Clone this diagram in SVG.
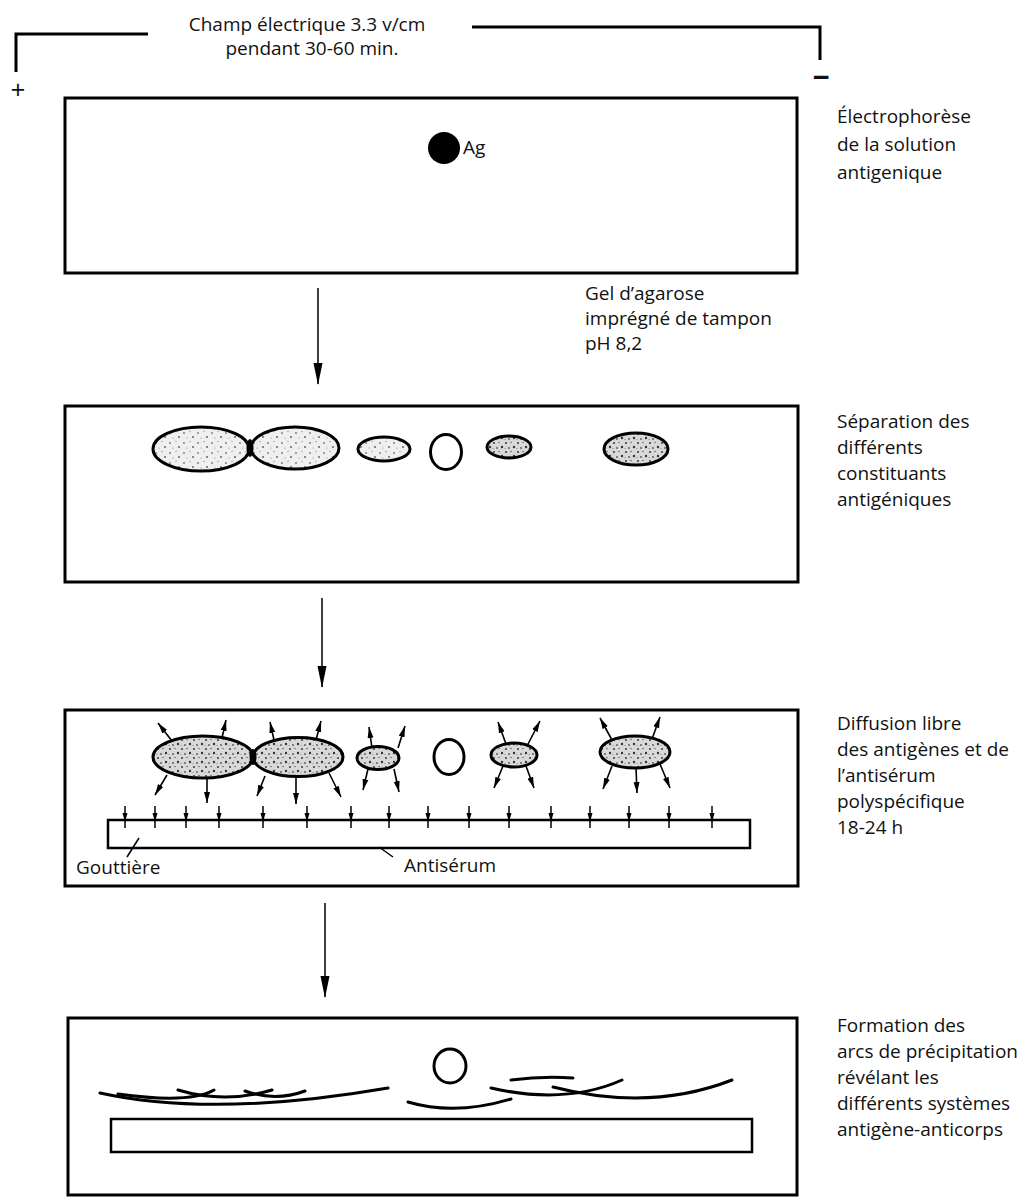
<svg xmlns="http://www.w3.org/2000/svg" width="1036" height="1200" viewBox="0 0 1036 1200">
<style>
.frame{fill:none;stroke:#000;stroke-width:3}
.strip{fill:#fff;stroke:#000;stroke-width:2.5}
.lbl{font-family:"Open Sans","DejaVu Sans",sans-serif;font-size:19px;fill:#111}
.ell{stroke:#000;stroke-width:3}
.arc{fill:none;stroke:#000;stroke-width:3;stroke-linecap:round}
.ray{stroke:#000;stroke-width:1.6}
.conn{stroke:#000;stroke-width:1.5;fill:none}
.tick{stroke:#000;stroke-width:1.5}
.ptr{stroke:#000;stroke-width:1.5}
</style>
<defs>
<pattern id="st" width="14" height="10" patternUnits="userSpaceOnUse">
<rect width="14" height="10" fill="#efefef"/>
<circle cx="2" cy="3" r="0.9" fill="#777"/>
<circle cx="8" cy="1.5" r="0.7" fill="#999"/>
<circle cx="11" cy="7" r="1" fill="#666"/>
<circle cx="5" cy="8" r="0.6" fill="#888"/>
</pattern>
<pattern id="std" width="12" height="9" patternUnits="userSpaceOnUse">
<rect width="12" height="9" fill="#d9d9d9"/>
<circle cx="2" cy="2" r="1.1" fill="#444"/>
<circle cx="7" cy="1.5" r="0.8" fill="#666"/>
<circle cx="10" cy="6" r="1.2" fill="#333"/>
<circle cx="5" cy="7" r="0.9" fill="#555"/>
<circle cx="1" cy="7.5" r="0.6" fill="#777"/>
</pattern>
<marker id="big" markerUnits="userSpaceOnUse" markerWidth="22" markerHeight="10" refX="21" refY="5" orient="auto">
<path d="M0,0.5 L22,5 L0,9.5 z" fill="#000"/>
</marker>
<marker id="sm" markerUnits="userSpaceOnUse" markerWidth="11" markerHeight="7" refX="11" refY="3.5" orient="auto">
<path d="M0,0.5 L11,3.5 L0,6.5 z" fill="#000"/>
</marker>
</defs>
<rect width="1036" height="1200" fill="#fff"/>

<g id="field">
<path d="M16,72 L16,34 L148,34" class="frame" stroke-width="2.5"/>
<path d="M472,27 L820,27 L820,60" class="frame" stroke-width="2.5"/>
<text class="lbl" x="307" y="31" text-anchor="middle">Champ électrique 3.3 v/cm</text>
<text class="lbl" x="312" y="55" text-anchor="middle">pendant 30-60 min.</text>
<text class="lbl" x="18" y="99" text-anchor="middle" style="font-size:26px">+</text>
<text class="lbl" x="821" y="88" text-anchor="middle" style="font-size:30px;font-weight:bold">−</text>
</g>

<g id="panel1">
<rect x="65" y="98" width="732" height="175" class="frame"/>
<circle cx="444" cy="148" r="16" fill="#000"/>
<text class="lbl" x="463" y="154">Ag</text>
<text class="lbl" x="837" y="123">Électrophorèse</text>
<text class="lbl" x="837" y="151">de la solution</text>
<text class="lbl" x="837" y="179">antigenique</text>
</g>

<g id="gel-label">
<text class="lbl" x="585" y="300">Gel d’agarose</text>
<text class="lbl" x="585" y="325">imprégné de tampon</text>
<text class="lbl" x="585" y="350">pH 8,2</text>
</g>

<g id="panel2">
<rect x="65" y="406" width="733" height="176" class="frame"/>
<ellipse cx="201" cy="449" rx="48" ry="22" fill="url(#st)" class="ell"/>
<ellipse cx="295" cy="448" rx="44" ry="21" fill="url(#st)" class="ell"/>
<ellipse cx="250" cy="448" rx="3.5" ry="9" fill="#000"/>
<ellipse cx="384" cy="449" rx="26" ry="12" fill="url(#st)" class="ell"/>
<ellipse cx="446" cy="452" rx="15.5" ry="17.5" fill="#fff" class="ell" stroke-width="2"/>
<ellipse cx="509" cy="447" rx="22" ry="11" fill="url(#std)" class="ell"/>
<ellipse cx="636" cy="449" rx="32" ry="16" fill="url(#std)" class="ell"/>
<text class="lbl" x="837" y="428">Séparation des</text>
<text class="lbl" x="837" y="454">différents</text>
<text class="lbl" x="837" y="480">constituants</text>
<text class="lbl" x="837" y="506">antigéniques</text>
</g>

<g id="panel3">
<rect x="65" y="710" width="733" height="176" class="frame"/>
<ellipse cx="203" cy="757" rx="50" ry="21" fill="url(#std)" class="ell"/>
<ellipse cx="298" cy="757" rx="45" ry="19.5" fill="url(#std)" class="ell"/>
<ellipse cx="253" cy="757" rx="3.5" ry="8" fill="#000"/>
<ellipse cx="378" cy="758" rx="21" ry="11.5" fill="url(#std)" class="ell"/>
<ellipse cx="449" cy="757" rx="15" ry="17.5" fill="#fff" class="ell" stroke-width="2"/>
<ellipse cx="514" cy="755" rx="23" ry="12" fill="url(#std)" class="ell"/>
<ellipse cx="635" cy="752" rx="35" ry="16" fill="url(#std)" class="ell"/>
<g class="ray">
<line x1="172" y1="741" x2="158" y2="723" marker-end="url(#sm)"/>
<line x1="222" y1="738" x2="226" y2="720" marker-end="url(#sm)"/>
<line x1="167" y1="775" x2="155" y2="795" marker-end="url(#sm)"/>
<line x1="207" y1="778" x2="207" y2="803" marker-end="url(#sm)"/>
<line x1="274" y1="740" x2="270" y2="722" marker-end="url(#sm)"/>
<line x1="316" y1="740" x2="321" y2="721" marker-end="url(#sm)"/>
<line x1="265" y1="776" x2="257" y2="796" marker-end="url(#sm)"/>
<line x1="296" y1="777" x2="296" y2="804" marker-end="url(#sm)"/>
<line x1="329" y1="773" x2="341" y2="797" marker-end="url(#sm)"/>
<line x1="372" y1="748" x2="369" y2="727" marker-end="url(#sm)"/>
<line x1="398" y1="748" x2="405" y2="726" marker-end="url(#sm)"/>
<line x1="368" y1="769" x2="363" y2="790" marker-end="url(#sm)"/>
<line x1="394" y1="769" x2="399" y2="792" marker-end="url(#sm)"/>
<line x1="506" y1="744" x2="498" y2="722" marker-end="url(#sm)"/>
<line x1="528" y1="744" x2="540" y2="721" marker-end="url(#sm)"/>
<line x1="503" y1="766" x2="494" y2="788" marker-end="url(#sm)"/>
<line x1="526" y1="766" x2="534" y2="788" marker-end="url(#sm)"/>
<line x1="612" y1="740" x2="600" y2="718" marker-end="url(#sm)"/>
<line x1="652" y1="739" x2="660" y2="717" marker-end="url(#sm)"/>
<line x1="612" y1="766" x2="603" y2="789" marker-end="url(#sm)"/>
<line x1="636" y1="768" x2="637" y2="793" marker-end="url(#sm)"/>
<line x1="660" y1="764" x2="670" y2="788" marker-end="url(#sm)"/>
</g>
<rect x="108" y="820" width="642" height="28" class="strip"/>
<g class="tick">
<line x1="125" y1="806" x2="125" y2="828"/><line x1="155" y1="806" x2="155" y2="828"/>
<line x1="186" y1="806" x2="186" y2="828"/><line x1="219" y1="806" x2="219" y2="828"/>
<line x1="263" y1="806" x2="263" y2="828"/><line x1="307" y1="806" x2="307" y2="828"/>
<line x1="351" y1="806" x2="351" y2="828"/><line x1="389" y1="806" x2="389" y2="828"/>
<line x1="428" y1="806" x2="428" y2="828"/><line x1="469" y1="806" x2="469" y2="828"/>
<line x1="509" y1="806" x2="509" y2="828"/><line x1="551" y1="806" x2="551" y2="828"/>
<line x1="590" y1="806" x2="590" y2="828"/><line x1="629" y1="806" x2="629" y2="828"/>
<line x1="669" y1="806" x2="669" y2="828"/><line x1="712" y1="806" x2="712" y2="828"/>
</g>
<g fill="#000">
<path d="M122.5,813 L127.5,813 L125,822 z"/><path d="M152.5,813 L157.5,813 L155,822 z"/>
<path d="M183.5,813 L188.5,813 L186,822 z"/><path d="M216.5,813 L221.5,813 L219,822 z"/>
<path d="M260.5,813 L265.5,813 L263,822 z"/><path d="M304.5,813 L309.5,813 L307,822 z"/>
<path d="M348.5,813 L353.5,813 L351,822 z"/><path d="M386.5,813 L391.5,813 L389,822 z"/>
<path d="M425.5,813 L430.5,813 L428,822 z"/><path d="M466.5,813 L471.5,813 L469,822 z"/>
<path d="M506.5,813 L511.5,813 L509,822 z"/><path d="M548.5,813 L553.5,813 L551,822 z"/>
<path d="M587.5,813 L592.5,813 L590,822 z"/><path d="M626.5,813 L631.5,813 L629,822 z"/>
<path d="M666.5,813 L671.5,813 L669,822 z"/><path d="M709.5,813 L714.5,813 L712,822 z"/>
</g>
<line x1="127" y1="857" x2="139" y2="838" class="ptr"/>
<line x1="393" y1="857" x2="379" y2="847" class="ptr"/>
<text class="lbl" x="76" y="874">Gouttière</text>
<text class="lbl" x="404" y="872">Antisérum</text>
<text class="lbl" x="837" y="730">Diffusion libre</text>
<text class="lbl" x="837" y="756">des antigènes et de</text>
<text class="lbl" x="837" y="782">l’antisérum</text>
<text class="lbl" x="837" y="808">polyspécifique</text>
<text class="lbl" x="837" y="834">18-24 h</text>
</g>

<g id="panel4">
<rect x="68" y="1018" width="729" height="177" class="frame"/>
<ellipse cx="450" cy="1066" rx="16" ry="17" fill="#fff" class="ell" stroke-width="2"/>
<path class="arc" d="M100,1093 Q214,1118 388,1088"/>
<path class="arc" d="M118,1094 Q190,1104 214,1090"/>
<path class="arc" d="M178,1090 Q225,1104 272,1090"/>
<path class="arc" d="M245,1091 Q275,1102 305,1091"/>
<path class="arc" d="M408,1102 Q455,1116 511,1099"/>
<path class="arc" d="M511,1080 Q542,1076 573,1078"/>
<path class="arc" d="M491,1088 Q566,1105 622,1080"/>
<path class="arc" d="M553,1087 Q650,1112 732,1080"/>
<rect x="111" y="1119" width="641" height="33" class="strip"/>
<text class="lbl" x="837" y="1032">Formation des</text>
<text class="lbl" x="837" y="1058">arcs de précipitation</text>
<text class="lbl" x="837" y="1084">révélant les</text>
<text class="lbl" x="837" y="1110">différents systèmes</text>
<text class="lbl" x="837" y="1136">antigène-anticorps</text>
</g>

<g id="connectors">
<line x1="318" y1="288" x2="318" y2="384" class="conn" marker-end="url(#big)"/>
<line x1="322" y1="598" x2="322" y2="687" class="conn" marker-end="url(#big)"/>
<line x1="325" y1="903" x2="325" y2="997" class="conn" marker-end="url(#big)"/>
</g>
</svg>
